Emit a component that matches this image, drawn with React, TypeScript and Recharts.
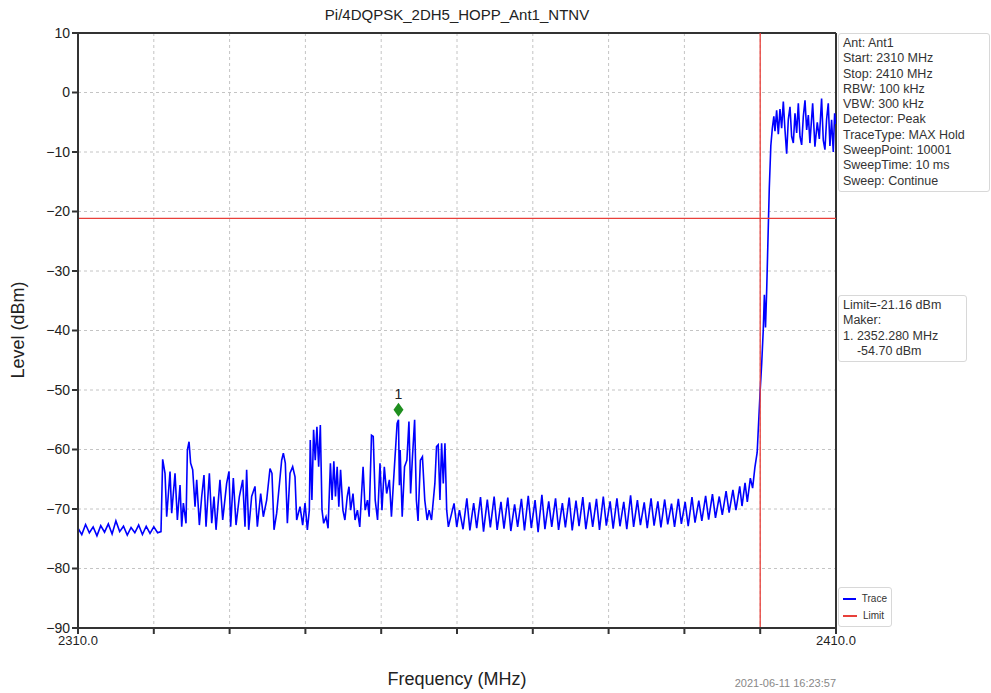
import { LineChart, Line, XAxis, YAxis, CartesianGrid, ReferenceLine, ReferenceDot } from "recharts";

const FONT = '"Liberation Sans", Arial, Helvetica, sans-serif';

// noise floor before the hopping band
const floorFreqs = [2310.0, 2310.5, 2311.0, 2311.5, 2312.0, 2312.5, 2313.0, 2313.5, 2314.0, 2314.5, 2315.0, 2315.5, 2316.0, 2316.5, 2317.0, 2317.5, 2318.0, 2318.5, 2319.0, 2319.5, 2320.0, 2320.5, 2320.95];
const floorLevels = [-73.2, -74.3, -72.6, -74.0, -73.0, -74.5, -72.8, -73.9, -72.5, -74.2, -72.0, -73.8, -72.9, -74.4, -73.1, -74.0, -72.7, -74.3, -72.9, -74.1, -73.0, -74.0, -73.8];

// spurious bursts 2321 - 2340 MHz
const burstFreqs = [2321.17, 2321.48, 2321.70, 2322.14, 2322.36, 2322.80, 2323.11, 2323.46, 2323.68, 2323.90, 2324.25, 2324.43, 2324.65, 2324.86, 2325.13, 2325.44, 2325.66, 2326.01, 2326.32, 2326.62, 2326.89, 2327.33, 2327.64, 2327.94, 2328.21, 2328.73, 2329.09, 2329.61, 2329.92, 2330.14, 2330.49, 2330.85, 2331.29, 2331.73, 2332.03, 2332.25, 2332.52, 2332.91, 2333.35, 2333.66, 2334.10, 2334.45, 2334.89, 2335.33, 2335.59, 2335.86, 2336.21, 2336.87, 2337.09, 2337.35, 2337.62, 2337.97, 2338.32, 2338.63, 2338.85, 2339.29, 2339.64, 2339.95, 2340.26, 2340.52];
const burstLevels = [-61.65, -64.0, -71.3, -63.7, -70.7, -64.0, -71.85, -65.96, -72.97, -69.0, -72.4, -60.1, -58.7, -62.3, -63.4, -69.6, -65.1, -72.7, -67.9, -64.3, -72.97, -64.0, -72.4, -67.9, -73.5, -65.1, -71.85, -65.7, -63.7, -72.97, -64.8, -72.7, -67.9, -65.1, -72.97, -63.4, -73.5, -67.9, -66.2, -72.97, -67.4, -71.3, -68.5, -63.2, -64.0, -73.5, -70.7, -61.8, -60.6, -62.3, -72.4, -64.0, -62.9, -64.6, -71.85, -69.6, -72.7, -69.0, -73.5, -70.2];

// spurious bursts 2340 - 2360 MHz (marker region)
const peakFreqs = [2340.64, 2340.86, 2341.08, 2341.30, 2341.52, 2341.75, 2341.97, 2342.19, 2342.41, 2342.72, 2342.99, 2343.30, 2343.52, 2343.75, 2343.97, 2344.19, 2344.41, 2344.64, 2344.95, 2345.21, 2345.52, 2345.75, 2345.97, 2346.28, 2346.55, 2346.86, 2347.17, 2347.61, 2347.88, 2348.19, 2348.41, 2348.72, 2348.95, 2349.21, 2349.52, 2349.84, 2350.10, 2350.41, 2350.72, 2351.08, 2351.35, 2351.61, 2352.10, 2352.28, 2352.40, 2352.50, 2352.77, 2353.08, 2353.39, 2353.66, 2353.88, 2354.10, 2354.41, 2354.64, 2354.86, 2355.17, 2355.44, 2355.75, 2356.06, 2356.32, 2356.64, 2357.08, 2357.30, 2357.52, 2357.75, 2357.97, 2358.19, 2358.41, 2358.64, 2358.86, 2359.30, 2359.61, 2359.97, 2360.32];
const peakLevels = [-58.4, -68.5, -56.7, -61.8, -56.2, -62.9, -55.9, -70.2, -72.4, -71.3, -73.25, -62.3, -68.5, -62.0, -67.9, -62.9, -69.6, -63.4, -70.2, -71.85, -67.9, -66.25, -70.2, -67.4, -71.85, -70.2, -73.0, -62.9, -70.2, -68.5, -71.3, -57.6, -57.8, -68.5, -71.85, -62.3, -70.2, -62.9, -67.4, -65.1, -71.3, -65.7, -55.6, -55.0, -66.0, -60.1, -71.3, -62.9, -61.8, -55.3, -67.4, -61.8, -55.0, -68.5, -72.0, -61.8, -61.2, -68.5, -71.85, -70.2, -71.85, -65.7, -59.5, -59.2, -68.5, -58.96, -65.7, -58.96, -70.2, -73.0, -70.7, -69.05, -73.0, -70.2];

// periodic ripple up to the band edge
const rippleFreqs = [2360.8, 2361.3, 2361.7, 2362.2, 2362.6, 2363.1, 2363.5, 2364.0, 2364.4, 2364.9, 2365.3, 2365.8, 2366.2, 2366.7, 2367.1, 2367.6, 2368.0, 2368.5, 2368.9, 2369.4, 2369.8, 2370.3, 2370.7, 2371.2, 2371.6, 2372.1, 2372.5, 2373.0, 2373.4, 2373.9, 2374.3, 2374.8, 2375.2, 2375.7, 2376.1, 2376.6, 2377.0, 2377.5, 2377.9, 2378.4, 2378.8, 2379.3, 2379.7, 2380.2, 2380.6, 2381.1, 2381.5, 2382.0, 2382.4, 2382.9, 2383.3, 2383.8, 2384.2, 2384.7, 2385.1, 2385.6, 2386.0, 2386.5, 2386.9, 2387.4, 2387.8, 2388.3, 2388.7, 2389.2, 2389.6, 2390.1, 2390.5, 2391.0, 2391.4, 2391.9, 2392.3, 2392.8, 2393.2, 2393.7, 2394.1, 2394.6, 2395.0, 2395.5, 2395.9, 2396.4, 2396.8, 2397.3, 2397.6, 2398.0, 2398.3, 2398.7, 2399.0, 2399.3, 2399.6];
const rippleLevels = [-73.4, -68.2, -73.6, -69.0, -73.2, -68.0, -73.8, -68.4, -73.1, -67.9, -73.5, -68.8, -73.3, -68.1, -73.7, -69.2, -73.0, -68.3, -73.6, -67.8, -73.2, -68.5, -73.9, -67.6, -73.4, -68.7, -73.0, -68.2, -73.5, -69.0, -73.1, -68.1, -73.6, -68.6, -72.9, -68.0, -73.4, -68.9, -73.0, -68.3, -73.5, -67.9, -72.8, -68.7, -73.3, -68.2, -72.9, -68.8, -73.4, -67.7, -73.0, -68.5, -72.7, -68.9, -73.2, -68.2, -72.8, -68.7, -73.1, -68.4, -72.6, -69.1, -73.0, -68.3, -72.5, -68.8, -72.9, -68.0, -72.3, -68.6, -72.0, -67.8, -71.8, -67.5, -71.5, -67.9, -71.0, -67.0, -70.6, -66.8, -70.2, -66.2, -69.5, -65.6, -68.8, -64.8, -66.5, -63.0, -60.5];

// band edge and in-band carrier
const bandFreqs = [2400.0, 2400.2, 2400.4, 2400.55, 2400.7, 2400.85, 2401.0, 2401.2, 2401.4, 2401.6, 2401.8, 2401.95, 2402.17, 2402.39, 2402.61, 2402.83, 2403.05, 2403.27, 2403.49, 2403.71, 2403.93, 2404.15, 2404.37, 2404.59, 2404.81, 2405.03, 2405.25, 2405.47, 2405.69, 2405.91, 2406.13, 2406.35, 2406.56, 2406.92, 2407.22, 2407.53, 2407.80, 2408.10, 2408.32, 2408.54, 2408.76, 2408.98, 2409.20, 2409.42, 2409.64, 2409.82, 2410.0];
const bandLevels = [-50.0, -45.5, -40.0, -34.0, -39.5, -33.5, -26.0, -16.0, -9.0, -6.0, -4.0, -6.5, -3.0, -7.0, -2.8, -6.0, -1.5, -6.3, -10.3, -4.5, -2.4, -7.4, -8.5, -3.5, -6.8, -1.8, -7.4, -8.8, -4.0, -1.3, -6.3, -3.8, -8.5, -1.8, -9.1, -5.0, -7.8, -1.0, -8.0, -9.6, -4.5, -1.8, -9.0, -4.6, -10.0, -3.5, -5.3];

const xTicks = [2310, 2320, 2330, 2340, 2350, 2360, 2370, 2380, 2390, 2400, 2410];
const yTicks = [10, 0, -10, -20, -30, -40, -50, -60, -70, -80, -90];

const limitLevel = -21.16;
const edgeFreq = 2400;
const markerFreq = 2352.28;
const markerLevel = -53.3;

const infoLines = ["Ant: Ant1", "Start: 2310 MHz", "Stop: 2410 MHz", "RBW: 100 kHz", "VBW: 300 kHz", "Detector: Peak", "TraceType: MAX Hold", "SweepPoint: 10001", "SweepTime: 10 ms", "Sweep: Continue"];
const limitLines = ["Limit=-21.16 dBm", "Maker:", "1. 2352.280 MHz", "    -54.70 dBm"];

const allFreqs = [...floorFreqs, ...burstFreqs, ...peakFreqs, ...rippleFreqs, ...bandFreqs];
const allLevels = [...floorLevels, ...burstLevels, ...peakLevels, ...rippleLevels, ...bandLevels];
const trace = allFreqs.map((f, i) => ({ f, level: allLevels[i] }));

const minus = (v: number) => String(v).replace("-", "\u2212");

const Diamond = (props: any) => {
  const { cx, cy } = props;
  return (
    <g>
      <polygon points={`${cx},${cy - 7} ${cx + 5},${cy} ${cx},${cy + 7} ${cx - 5},${cy}`} fill="#1f8f1f" />
      <text x={cx} y={cy - 11} textAnchor="middle" fontSize={14} fill="#222" fontFamily={FONT}>1</text>
    </g>
  );
};

const boxStyle: React.CSSProperties = {
  position: "absolute",
  border: "1px solid #d8d8d8",
  borderRadius: 3,
  background: "#fff",
  fontSize: 12.5,
  lineHeight: "15.3px",
  color: "#333",
  padding: "2px 4px",
  whiteSpace: "pre",
};

export default function App() {
  return (
    <div style={{ position: "absolute", left: 0, top: 0, width: 991, height: 693, background: "#fff", fontFamily: FONT }}>
      <div style={{ position: "absolute", left: 78, width: 758, top: 6, textAlign: "center", fontSize: 15, color: "#222" }}>Pi/4DQPSK_2DH5_HOPP_Ant1_NTNV</div>
      <LineChart width={991} height={693} data={trace} margin={{ top: 33, right: 155, bottom: 35, left: 28 }}>
        <CartesianGrid stroke="#c4c4c4" strokeDasharray="3 3" />
        <XAxis
          dataKey="f"
          type="number"
          domain={[2310, 2410]}
          ticks={xTicks}
          allowDataOverflow
          height={30}
          stroke="#333"
          strokeWidth={2}
          tickSize={6}
          tick={{ fill: "#222", fontSize: 13, fontFamily: FONT }}
          tickFormatter={(v: number) => (v === 2310 || v === 2410 ? v.toFixed(1) : "")}
        />
        <YAxis
          type="number"
          domain={[-90, 10]}
          ticks={yTicks}
          allowDataOverflow
          width={50}
          stroke="#333"
          strokeWidth={2}
          tickSize={6}
          tick={{ fill: "#222", fontSize: 14, fontFamily: FONT }}
          tickFormatter={minus}
        />
        <ReferenceLine y={10} stroke="#333" strokeWidth={2} />
        <ReferenceLine x={2410} stroke="#333" strokeWidth={2} />
        <Line dataKey="level" stroke="#0000ff" strokeWidth={1.6} strokeLinejoin="miter" dot={false} isAnimationActive={false} />
        <ReferenceLine y={limitLevel} stroke="#e8403a" strokeWidth={1.3} />
        <ReferenceLine x={edgeFreq} stroke="#e8403a" strokeWidth={1.3} />
        <ReferenceDot x={markerFreq} y={markerLevel} r={6} shape={Diamond} />
      </LineChart>
      <div style={{ position: "absolute", left: 4, top: 330, transform: "translate(-50%, -50%) rotate(-90deg)", transformOrigin: "center", marginLeft: 14, fontSize: 18, color: "#222", whiteSpace: "nowrap" }}>Level (dBm)</div>
      <div style={{ position: "absolute", left: 78, width: 758, top: 669, textAlign: "center", fontSize: 18, color: "#222" }}>Frequency (MHz)</div>
      <div style={{ position: "absolute", right: 991 - 836, top: 677, fontSize: 11, color: "#888" }}>2021-06-11 16:23:57</div>
      <div style={{ ...boxStyle, left: 838, top: 33, width: 142 }}>{infoLines.join("\n")}</div>
      <div style={{ ...boxStyle, left: 838, top: 295, width: 119 }}>{limitLines.join("\n")}</div>
      <div style={{ ...boxStyle, left: 838, top: 587, width: 44, fontSize: 10, lineHeight: "17px", padding: "2px 4px" }}>
        <div style={{ display: "flex", alignItems: "center" }}>
          <span style={{ display: "inline-block", width: 14, height: 2, background: "#0000ff", marginRight: 6 }} />Trace
        </div>
        <div style={{ display: "flex", alignItems: "center" }}>
          <span style={{ display: "inline-block", width: 14, height: 2, background: "#e8403a", marginRight: 6 }} />Limit
        </div>
      </div>
    </div>
  );
}
